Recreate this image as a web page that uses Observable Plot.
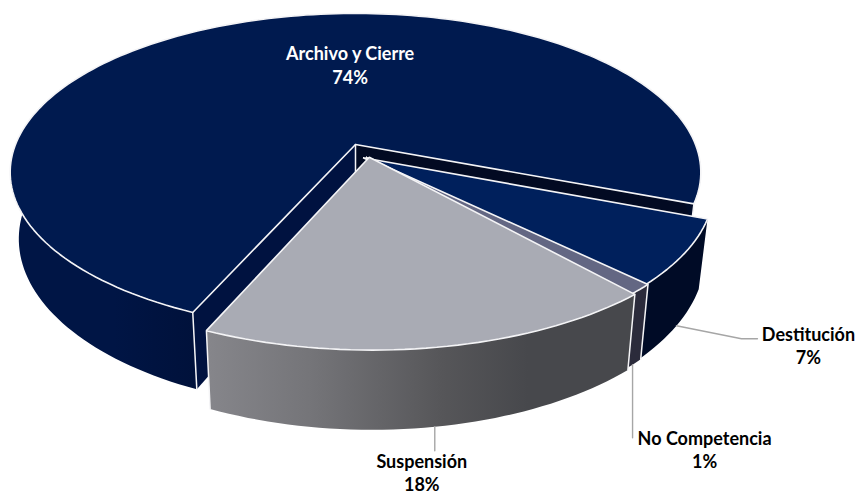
<!DOCTYPE html>
<html><head><meta charset="utf-8">
<style>html,body{margin:0;padding:0;background:#fff}</style>
<script src="https://cdn.jsdelivr.net/npm/d3@7"></script>
<script src="https://cdn.jsdelivr.net/npm/@observablehq/plot@0.6"></script>
</head><body><div id="chart"></div>
<script>
const categories = ["Archivo y Cierre", "Destitución", "No Competencia", "Suspensión"];
const shares = [74.3, 6.5, 1.1, 18.1];
const topColors = ["#001a4f", "#00205c", "#636783", "#a9abb4"];
const sideColors = ["url(#gMain)", "#000b26", "#2b2b3b", "url(#gSusp)"];
const labelColors = ["#ffffff", "#000000", "#000000", "#000000"];

// 3D view of the pie (1 unit = pie radius)
const W = 856, H = 494, pxPerUnit = 340, originX = 355, originY = 144;
const startAngle = 203.7, tilt = 0.453, persp = 0.175, depth = 0.19, taper = 0.025;
const explode = [[0, 0], [0.022, 0.085], [0.03, 0.082], [0.04, 0.082]];

const rad = Math.PI / 180;
function proj(i, angle, r, z) {
  const a = r * Math.sin(angle * rad) + explode[i][0], v = -r * Math.cos(angle * rad) + explode[i][1];
  const w = 1 / (1 - persp * v);
  return [a * w * (1 - taper * z), tilt * v * w + depth * z * w];
}
let acc = startAngle;
const slices = shares.map((s, i) => {
  const a0 = acc, a1 = acc + s * 3.6; acc = a1;
  return {i, a0, a1, mid: (a0 + a1) / 2};
});
const arc = (sl, z, rev) => {
  const n = Math.max(4, Math.ceil((sl.a1 - sl.a0) / 1.5));
  const pts = d3.range(n + 1).map(k => proj(sl.i, sl.a0 + (sl.a1 - sl.a0) * k / n, 1, z));
  return rev ? pts.reverse() : pts;
};
const poly = (pts, fill, stroke) => Plot.line(pts, {
  x: d => d[0], y: d => d[1], curve: "linear-closed", fill,
  stroke: stroke || "none", strokeWidth: stroke ? 1.6 : 0, strokeLinejoin: "miter"
});
const edge = pts => Plot.line(pts, {x: d => d[0], y: d => d[1], stroke: "#f4f4f6", strokeWidth: 1.5});

const marks = [];
marks.push(() => {
  const defs = d3.create("svg:defs");
  const grad = (id, stops) => {
    const g = defs.append("linearGradient").attr("id", id);
    stops.forEach(([o, c]) => g.append("stop").attr("offset", o).attr("stop-color", c));
  };
  grad("gMain", [[0, "#001545"], [0.15, "#001545"], [0.3, "#001038"], [1, "#000c28"]]);
  grad("gSusp", [[0, "#86868b"], [0.25, "#747478"], [0.55, "#565659"], [0.75, "#47484c"], [1, "#47484c"]]);
  return defs.node();
});
slices.forEach(sl => {
  const {i, a0, a1} = sl;
  if (i === 0) {
    // the two cut faces of the large slice
    const rightFace = [proj(0, a1, 0, 0), proj(0, a1, 1, 0), proj(0, a1, 1, 1), proj(0, a1, 0, 1)];
    const leftFace = [proj(0, a0, 0, 0), proj(0, a0, 1, 0), proj(0, a0, 1, 1), proj(0, a0, 0, 1)];
    marks.push(poly(leftFace, "#001240"), poly(rightFace, "#020a22"));
  }
  marks.push(poly([...arc(sl, 0), ...arc(sl, 1, true)], sideColors[i]));
  marks.push(poly([proj(i, a0, 0, 0), ...arc(sl, 0)], topColors[i], "#f4f4f6"));
  if (i === 0) {
    marks.push(edge([proj(0, a1, 0, 0), proj(0, a1, 0, 1)]));
    marks.push(edge([proj(0, a1, 1, 0), proj(0, a1, 1, 1)]));
    marks.push(edge([proj(0, a0, 1, 0), proj(0, a0, 1, 1)]));
  }
  if (i === 2) marks.push(edge([proj(2, a0, 1, 0), proj(2, a0, 1, 1)]));
  if (i === 3) {
    marks.push(edge([proj(3, a0, 1, 0), proj(3, a0, 1, 1)]));
    marks.push(edge([proj(3, a1, 1, 0), proj(3, a1, 1, 1)]));
  }
});
// leader lines, from the foot of each slice's wall towards its label
const u = px => px / pxPerUnit;
const foot = i => proj(i, slices[i].mid, 1, 1);
const leaders = [
  [foot(1), [foot(1)[0] + u(65), foot(1)[1] + u(13)], [foot(1)[0] + u(81), foot(1)[1] + u(13)]],
  [foot(2), [foot(2)[0], foot(2)[1] + u(73)]],
  [foot(3), [foot(3)[0], foot(3)[1] + u(24)]]
];
leaders.forEach(l => marks.push(Plot.line(l, {x: d => d[0], y: d => d[1], stroke: "#a6a6a6", strokeWidth: 1.4})));

const labelOffset = [[66, -2], [132, 19], [72, 84], [-13, 45]];
const labels = slices.map(sl => {
  const r = sl.i === 0 ? 0.6 : 1, z = sl.i === 0 ? 0 : 1;
  const [x, y] = proj(sl.i, sl.mid, r, z);
  return {x: x + u(labelOffset[sl.i][0]), y: y + u(labelOffset[sl.i][1]),
          text: categories[sl.i] + "\n" + Math.round(shares[sl.i]) + "%", color: labelColors[sl.i]};
});
marks.push(Plot.text(labels, {
  x: "x", y: "y", text: "text", fill: "color", fontSize: 18, fontWeight: 700,
  fontFamily: "Lato, 'Open Sans', sans-serif", lineHeight: 1.3, textAnchor: "middle", lineAnchor: "middle"
}));

const chart = Plot.plot({
  width: W, height: H, margin: 0,
  style: {background: "#fff"},
  x: {domain: [-originX / pxPerUnit, (W - originX) / pxPerUnit], range: [0, W], axis: null},
  y: {domain: [-originY / pxPerUnit, (H - originY) / pxPerUnit], range: [0, H], axis: null},
  color: {type: "identity"},
  marks
});
document.getElementById("chart").append(chart);
</script></body></html>
